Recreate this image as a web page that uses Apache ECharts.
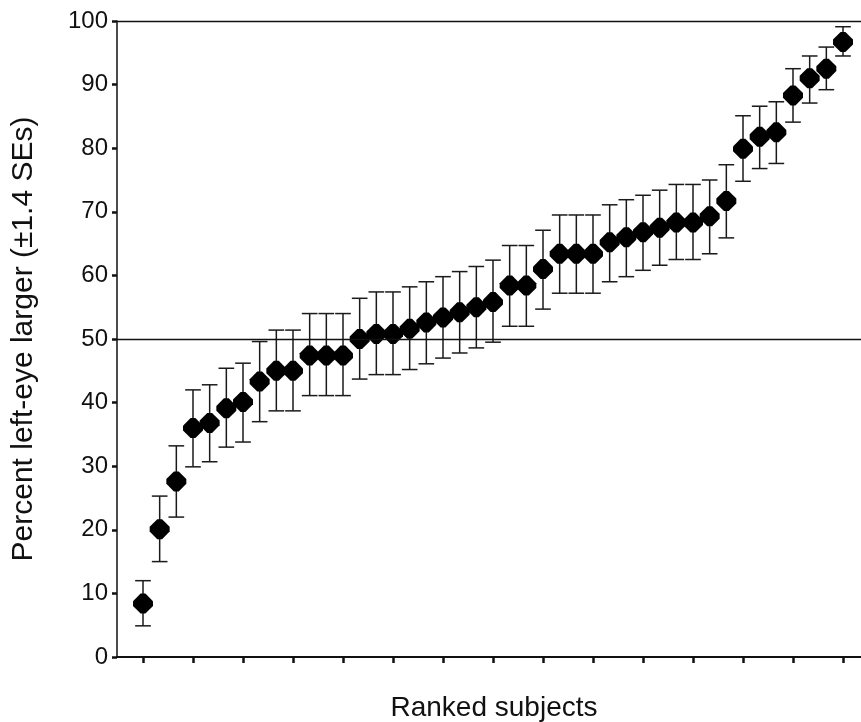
<!DOCTYPE html>
<html>
<head>
<meta charset="utf-8">
<script src="https://cdn.jsdelivr.net/npm/echarts@6/dist/echarts.min.js"></script>
<style>
html,body{margin:0;padding:0;background:#fff;}
#container1{width:861px;height:722px;}
</style>
</head>
<body>
<div id="container1"></div>
<script>
// subjects ranked 1..43
var ranks = [1,2,3,4,5,6,7,8,9,10,11,12,13,14,15,16,17,18,19,20,21,22,23,24,25,26,27,28,29,30,31,32,33,34,35,36,37,38,39,40,41,42,43];
var percent = [8.4,20.1,27.6,36.0,36.8,39.1,40.1,43.3,45.0,45.0,47.4,47.4,47.4,50.0,50.8,50.8,51.6,52.6,53.4,54.2,55.0,55.8,58.4,58.4,61.0,63.4,63.4,63.4,65.2,66.0,66.8,67.5,68.3,68.3,69.3,71.7,79.9,81.8,82.5,88.3,91.0,92.5,96.7];
var lower = [4.9,15.0,22.0,29.9,30.7,33.0,33.8,37.0,38.7,38.7,41.1,41.1,41.1,43.7,44.4,44.4,45.2,46.1,47.0,47.8,48.6,49.5,52.0,52.0,54.7,57.2,57.2,57.2,59.0,59.8,60.8,61.6,62.5,62.5,63.4,65.9,74.8,76.8,77.6,84.1,87.1,89.2,94.5];
var upper = [12.0,25.3,33.2,42.0,42.8,45.4,46.2,49.6,51.4,51.4,54.0,54.0,54.0,56.4,57.4,57.4,58.2,59.0,59.8,60.6,61.4,62.4,64.7,64.7,67.1,69.5,69.5,69.5,71.1,71.9,72.6,73.4,74.3,74.3,75.0,77.4,85.1,86.6,87.3,92.5,94.5,95.9,99.1];
var xTicks = [1,4,7,10,13,16,19,22,25,28,31,34,37,40,43];
var refLines = [50,100];

var myChart = echarts.init(document.getElementById('container1'));

var pointData = ranks.map(function(r,i){ return [r, percent[i]]; });
var barData = ranks.map(function(r,i){ return [r, lower[i], upper[i]]; });

var font = '"Liberation Sans", Arial, sans-serif';

var option = {
    animation: false,
    backgroundColor: '#fff',
    grid: { left: 117, right: 0, top: 21, bottom: 65, containLabel: false, outerBoundsMode: 'none' },
    xAxis: {
        type: 'value',
        min: -0.56,
        max: 44.08,
        name: 'Ranked subjects',
        nameLocation: 'middle',
        nameGap: 37,
        nameMoveOverlap: false,
        nameTextStyle: { fontFamily: font, fontSize: 28, color: '#111', padding: [0, 0, 0, 10] },
        axisLine: { show: true, onZero: false, lineStyle: { color: '#111', width: 2 } },
        axisTick: { show: true, customValues: xTicks, length: 6, lineStyle: { color: '#111', width: 2.5 } },
        axisLabel: { show: false },
        splitLine: { show: false }
    },
    yAxis: {
        type: 'value',
        min: 0,
        max: 100,
        interval: 10,
        name: 'Percent left-eye larger (±1.4 SEs)',
        nameLocation: 'middle',
        nameGap: 78,
        nameMoveOverlap: false,
        nameTextStyle: { fontFamily: font, fontSize: 30, color: '#111' },
        axisLine: { show: true, onZero: false, lineStyle: { color: '#111', width: 1.5 } },
        axisTick: { show: true, length: 5, lineStyle: { color: '#111', width: 2.5 } },
        axisLabel: { fontFamily: font, fontSize: 24, color: '#111', margin: 9 },
        splitLine: { show: false }
    },
    series: [
        {
            type: 'custom',
            name: 'se',
            data: barData,
            z: 2,
            renderItem: function(params, api){
                var x = api.value(0);
                var lo = api.coord([x, api.value(1)]);
                var hi = api.coord([x, api.value(2)]);
                var hw = api.size([1, 0])[0] * 0.47;
                var st = { stroke: '#1a1a1a', lineWidth: 1.5 };
                return {
                    type: 'group',
                    children: [
                        { type: 'line', shape: { x1: lo[0], y1: lo[1], x2: hi[0], y2: hi[1] }, style: st },
                        { type: 'line', shape: { x1: hi[0]-hw, y1: hi[1], x2: hi[0]+hw, y2: hi[1] }, style: st },
                        { type: 'line', shape: { x1: lo[0]-hw, y1: lo[1], x2: lo[0]+hw, y2: lo[1] }, style: st }
                    ]
                };
            }
        },
        {
            type: 'scatter',
            name: 'percent',
            data: pointData,
            z: 3,
            symbol: 'path://M38,0 L62,0 L100,38 L100,62 L62,100 L38,100 L0,62 L0,38 Z',
            symbolSize: 20,
            itemStyle: { color: '#000', opacity: 1 },
            markLine: {
                silent: true,
                symbol: 'none',
                label: { show: false },
                lineStyle: { color: '#111', width: 1.3, type: 'solid' },
                data: refLines.map(function(v){ return { yAxis: v }; })
            }
        }
    ]
};

myChart.setOption(option, true);
</script>
</body>
</html>
